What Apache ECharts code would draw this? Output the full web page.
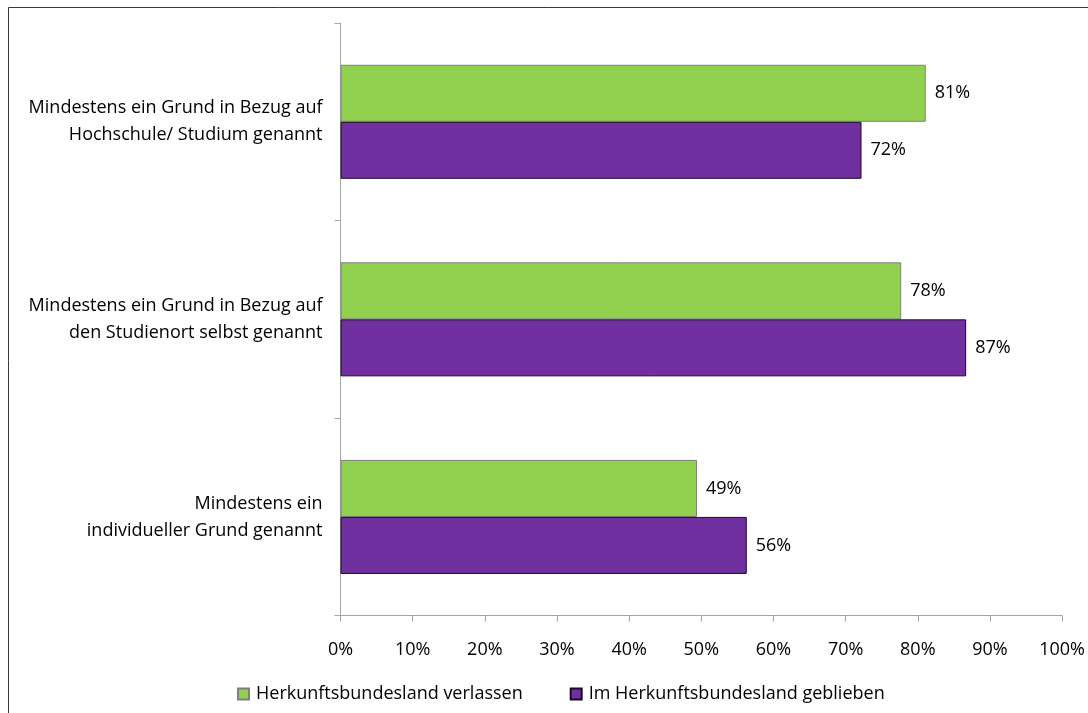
<!DOCTYPE html>
<html>
<head>
<meta charset="utf-8">
<script src="https://cdn.jsdelivr.net/npm/echarts@6/dist/echarts.min.js"></script>
<style>
html,body{margin:0;padding:0;background:#fff;}
#chart{width:1088px;height:713px;}
</style>
</head>
<body>
<div id="chart"></div>
<script>
var categories = [
  'Mindestens ein Grund in Bezug auf\nHochschule/ Studium genannt',
  'Mindestens ein Grund in Bezug auf\nden Studienort selbst genannt',
  'Mindestens ein\nindividueller Grund genannt'
];
var seriesNames = ['Herkunftsbundesland verlassen', 'Im Herkunftsbundesland geblieben'];
var verlassen = [81.1, 77.7, 49.4];
var geblieben = [72.2, 86.7, 56.3];
var xTicks = [0, 10, 20, 30, 40, 50, 60, 70, 80, 90, 100];

var FONT = 'Open Sans';
var FS = 18;
var chart = echarts.init(document.getElementById('chart'), null, {renderer: 'canvas'});
var labelCfg = {
  show: true,
  position: 'right',
  distance: 9,
  color: '#000',
  fontFamily: FONT,
  fontSize: FS,
  formatter: function (p) { return Math.round(p.value) + '%'; }
};
chart.setOption({
  backgroundColor: '#fff',
  animation: false,
  graphic: [{
    type: 'rect',
    shape: {x: 8.5, y: 7.5, width: 1200, height: 1200},
    style: {fill: 'none', stroke: '#3a3a3a', lineWidth: 1},
    silent: true
  }],
  grid: {left: 340.5, right: 25.7, top: 23, bottom: 97.3, containLabel: false},
  legend: {
    bottom: 5,
    left: 232,
    itemWidth: 11,
    itemHeight: 11,
    itemGap: 47,
    icon: 'rect',
    textStyle: {fontFamily: FONT, fontSize: FS, color: '#000', padding: [0, 0, 0, 2]},
    data: seriesNames
  },
  xAxis: {
    type: 'value',
    min: xTicks[0],
    max: xTicks[xTicks.length - 1],
    interval: 10,
    axisLine: {show: true, lineStyle: {color: '#a6a6a6', width: 1}},
    axisTick: {show: true, length: 6, lineStyle: {color: '#a6a6a6'}},
    splitLine: {show: false},
    axisLabel: {
      margin: 25,
      fontFamily: FONT,
      fontSize: FS,
      color: '#000',
      formatter: function (v) { return v + '%'; }
    }
  },
  yAxis: {
    type: 'category',
    inverse: true,
    data: categories,
    axisLine: {show: true, lineStyle: {color: '#a6a6a6', width: 1}},
    axisTick: {show: true, alignWithLabel: false, length: 6, lineStyle: {color: '#a6a6a6'}},
    axisLabel: {
      margin: 18,
      fontFamily: FONT,
      fontSize: FS,
      lineHeight: 27,
      color: '#000',
      align: 'right'
    }
  },
  series: [{
    name: seriesNames[0],
    type: 'bar',
    data: verlassen,
    barWidth: 57,
    barGap: '0%',
    itemStyle: {color: '#92d050', borderColor: '#7f7f7f', borderWidth: 1},
    label: labelCfg
  }, {
    name: seriesNames[1],
    type: 'bar',
    data: geblieben,
    barWidth: 57,
    barGap: '0%',
    itemStyle: {color: '#7030a0', borderColor: '#1a0a26', borderWidth: 1},
    label: labelCfg
  }]
});
</script>
</body>
</html>
